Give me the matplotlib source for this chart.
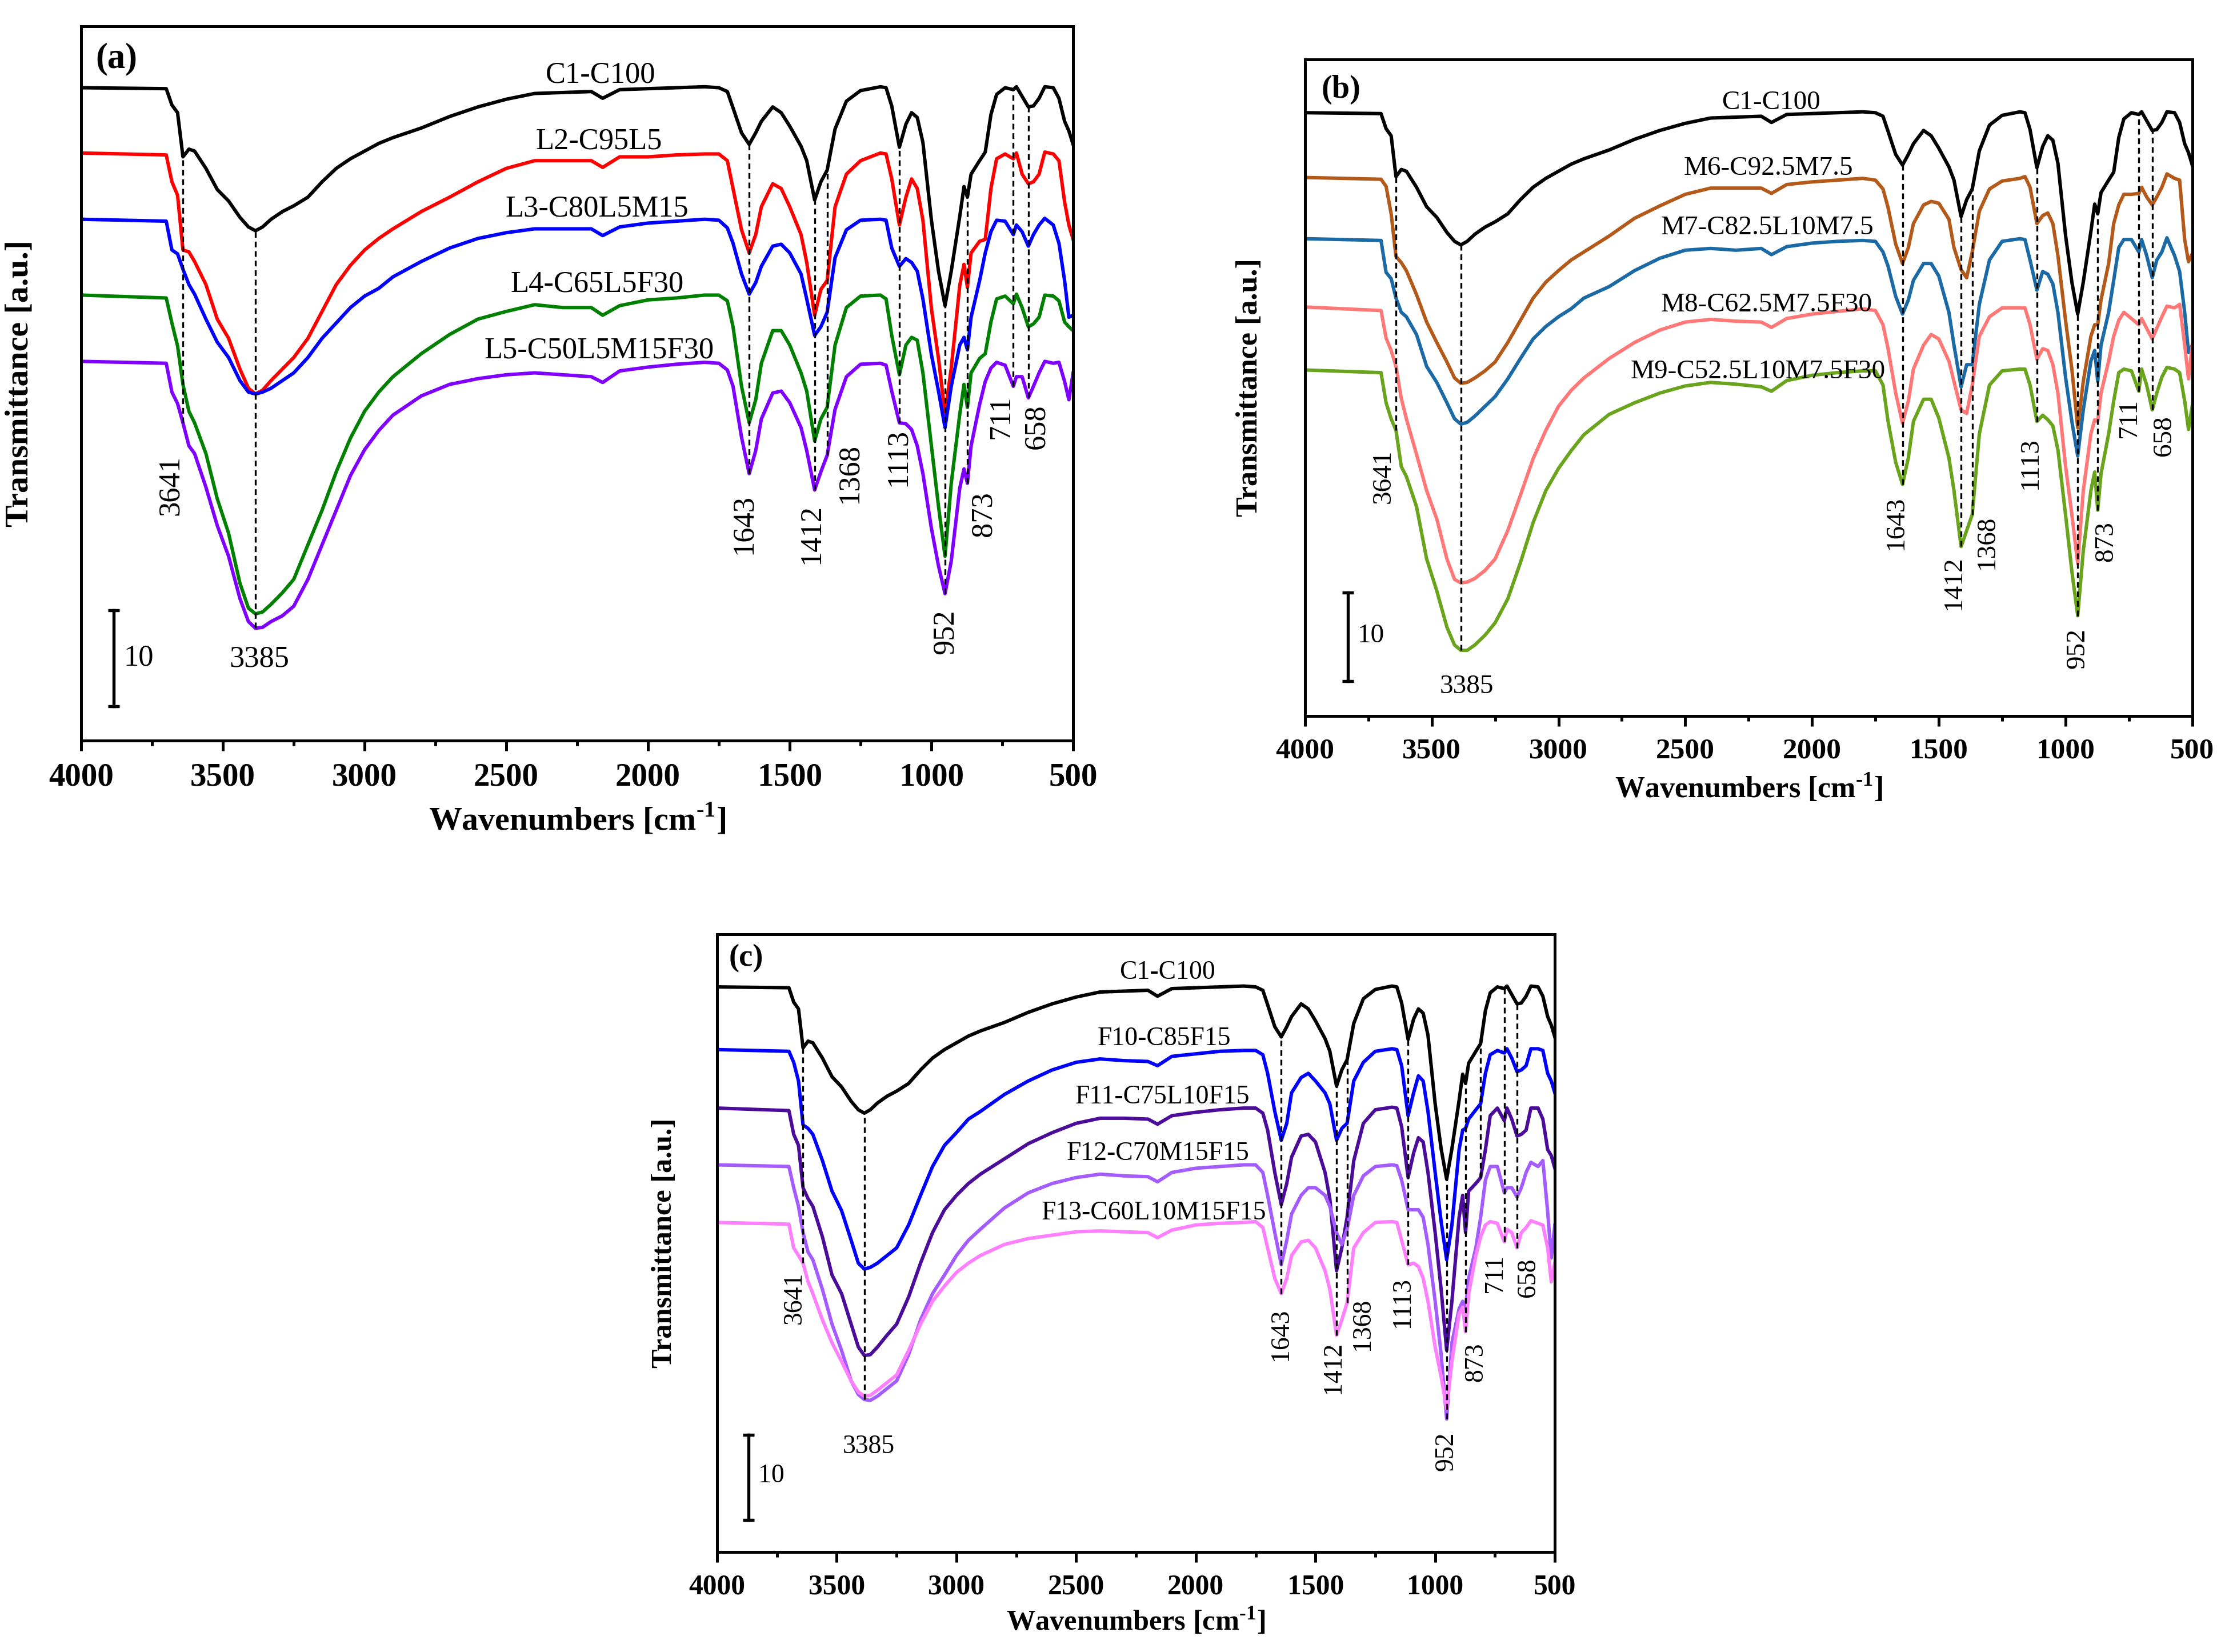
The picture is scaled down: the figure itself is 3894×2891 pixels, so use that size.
import numpy as np
import matplotlib.pyplot as plt

plt.rcParams['font.family'] = 'Liberation Serif'
plt.rcParams['mathtext.fontset'] = 'custom'
plt.rcParams['mathtext.rm'] = 'Liberation Serif:bold'
plt.rcParams['mathtext.bf'] = 'Liberation Serif:bold'
plt.rcParams['axes.linewidth'] = 1.2

# wavenumbers [cm-1] the spectra were read at: O-H band region, then fingerprint
wn_band = [4000, 3700, 3680, 3660, 3641, 3620, 3600, 3560, 3520, 3480,
           3440, 3410, 3385, 3360, 3330, 3290, 3250, 3200, 3150, 3100,
           3050, 3000, 2950, 2900, 2800, 2700, 2600, 2500, 2400, 2300,
           2200, 2160, 2100, 2000, 1900, 1800]
wn_fp = [1750, 1720, 1700, 1670, 1643, 1620, 1600, 1560, 1530, 1500,
         1460, 1440, 1412, 1390, 1368, 1340, 1300, 1250, 1180, 1160,
         1140, 1113, 1090, 1070, 1050, 1030, 1000, 975, 952, 930,
         900, 885, 873, 860, 830, 810, 790, 770, 740, 711,
         700, 680, 658, 640, 620, 600, 570, 550, 530, 515, 500]
wn = np.array(wn_band + wn_fp)

# offset transmittance, same units as the "10" scale bar
c1 = [68.0, 67.9, 66.2, 65.4, 60.8, 61.6, 61.4, 59.6, 57.4, 56.2,
      54.5, 53.5, 53.1, 53.5, 54.3, 55.1, 55.7, 56.6, 58.2, 59.6,
      60.6, 61.4, 62.2, 62.8, 63.8, 65.0, 66.0, 66.8, 67.4, 67.5,
      67.6, 66.9, 67.8, 67.9, 68.0, 68.1,
      68.0, 67.6, 65.9, 63.3, 62.1, 63.3, 64.5, 66.0, 65.4, 64.0,
      61.9, 60.4, 56.3, 58.2, 59.4, 63.7, 66.6, 67.7, 68.1, 68.0,
      66.1, 61.8, 64.2, 65.4, 64.9, 62.3, 54.2, 48.9, 45.3, 48.9,
      54.6, 57.7, 56.6, 59.0, 60.4, 61.3, 65.2, 67.3, 68.0, 67.8,
      68.1, 67.1, 66.0, 66.1, 66.9, 68.1, 68.0, 66.9, 64.5, 63.5, 62.1]

l2 = [61.2, 61.0, 58.2, 56.8, 51.1, 50.9, 49.9, 47.5, 43.9, 41.9,
      38.7, 36.7, 36.1, 36.5, 37.5, 38.7, 39.9, 41.9, 44.7, 47.5,
      49.5, 51.1, 52.3, 53.3, 55.1, 56.6, 58.2, 59.6, 60.4, 60.4,
      60.4, 59.7, 60.8, 60.8, 61.0, 61.1,
      61.1, 60.4, 57.5, 53.2, 50.8, 52.7, 55.6, 58.0, 57.5, 55.6,
      52.7, 49.8, 44.3, 47.0, 47.9, 55.6, 59.0, 60.4, 61.2, 61.1,
      58.5, 53.7, 56.6, 58.5, 57.5, 54.2, 45.0, 39.8, 34.0, 38.8,
      47.4, 49.6, 47.2, 50.8, 52.0, 52.2, 57.5, 60.6, 61.1, 60.6,
      61.2, 59.0, 58.0, 58.2, 59.0, 61.3, 61.1, 60.4, 56.1, 53.7, 52.2]

l3 = [54.3, 54.1, 51.1, 50.7, 49.1, 47.5, 46.5, 43.9, 41.5, 39.9,
      37.5, 36.3, 36.1, 36.3, 36.7, 37.5, 38.3, 39.9, 41.9, 43.5,
      45.1, 46.3, 47.1, 48.3, 49.9, 51.3, 52.3, 52.9, 53.3, 53.3,
      53.3, 52.6, 53.5, 53.9, 54.1, 54.3,
      54.2, 53.4, 51.8, 48.6, 46.5, 47.7, 49.4, 51.5, 51.7, 50.8,
      48.6, 46.0, 42.2, 43.1, 44.6, 50.3, 53.2, 54.2, 54.3, 54.2,
      51.3, 49.4, 50.2, 49.8, 48.9, 46.0, 40.2, 36.4, 32.6, 36.9,
      41.2, 42.0, 40.7, 44.1, 47.9, 50.8, 53.0, 54.2, 54.1, 52.7,
      53.7, 53.0, 51.5, 52.7, 53.7, 54.4, 53.7, 51.8, 47.9, 44.1, 44.3]

l4 = [46.4, 46.1, 43.5, 41.1, 37.1, 34.3, 33.1, 29.9, 25.2, 21.6,
      16.4, 13.8, 13.2, 13.4, 14.2, 15.4, 16.8, 20.4, 24.0, 28.0,
      31.5, 34.3, 36.3, 37.9, 40.3, 42.3, 43.9, 44.7, 45.4, 45.1,
      45.1, 44.3, 45.3, 45.9, 46.1, 46.4,
      46.4, 45.8, 43.1, 36.9, 33.1, 35.5, 39.3, 42.7, 42.7, 41.2,
      38.3, 36.4, 31.2, 33.5, 34.7, 41.2, 45.1, 46.3, 46.4, 46.0,
      42.2, 38.1, 41.2, 42.0, 41.7, 38.3, 30.7, 24.4, 19.2, 26.8,
      34.0, 37.1, 34.7, 38.3, 39.8, 40.3, 43.6, 46.0, 46.3, 45.5,
      46.5, 45.1, 43.1, 43.4, 44.1, 46.4, 46.3, 45.8, 43.6, 43.1, 42.7]

l5 = [39.5, 39.3, 36.3, 35.1, 33.1, 30.7, 29.9, 26.4, 22.4, 19.2,
      14.8, 12.4, 11.7, 11.8, 12.4, 13.0, 14.0, 16.8, 20.4, 24.0,
      27.6, 30.3, 32.3, 33.9, 35.9, 37.1, 37.7, 38.1, 38.3, 38.1,
      37.9, 37.3, 38.5, 38.9, 39.2, 39.4,
      39.3, 38.6, 36.9, 31.6, 27.8, 30.2, 33.5, 36.2, 36.4, 35.2,
      32.6, 30.2, 26.1, 28.0, 29.7, 34.5, 37.9, 39.2, 39.3, 39.1,
      36.4, 33.1, 33.0, 32.4, 30.7, 27.8, 22.1, 18.2, 15.3, 18.7,
      26.3, 28.3, 26.8, 30.7, 35.0, 37.4, 38.8, 39.4, 39.1, 36.9,
      37.9, 37.9, 35.7, 36.9, 38.3, 39.5, 39.3, 39.4, 37.4, 35.5, 38.3]

m6 = [60.7, 60.5, 59.7, 56.6, 51.8, 51.1, 50.2, 47.5, 44.4, 42.1,
      39.9, 38.1, 37.5, 37.6, 38.1, 38.9, 39.9, 42.1, 44.6, 47.1,
      48.9, 50.2, 51.4, 52.3, 54.1, 56.1, 57.5, 58.8, 59.5, 59.5,
      59.5, 58.9, 59.9, 60.2, 60.4, 60.6,
      60.4, 59.4, 57.3, 53.2, 51.0, 52.8, 55.5, 57.6, 58.0, 57.8,
      56.0, 52.8, 50.3, 49.4, 52.3, 56.9, 59.4, 60.3, 60.6, 60.8,
      59.6, 55.5, 56.4, 56.7, 55.5, 51.9, 44.6, 39.1, 32.5, 37.7,
      42.8, 44.1, 44.1, 46.9, 51.0, 55.5, 57.6, 58.8, 58.8, 58.9,
      59.6, 58.5, 57.6, 58.5, 59.6, 61.1, 60.6, 60.4, 53.7, 51.2, 52.1]

m7 = [53.8, 53.6, 50.0, 49.3, 47.1, 45.5, 45.0, 43.0, 39.4, 37.6,
      35.3, 33.5, 32.9, 33.1, 33.8, 34.9, 36.0, 38.0, 40.3, 42.5,
      43.9, 45.0, 45.9, 47.1, 48.4, 50.2, 51.6, 52.5, 52.7, 52.5,
      52.7, 52.0, 52.9, 53.3, 53.5, 53.6,
      53.5, 52.3, 50.7, 47.3, 45.3, 46.9, 49.1, 51.0, 51.0, 49.6,
      45.5, 41.8, 37.1, 39.6, 39.6, 46.4, 51.4, 53.5, 53.8, 53.7,
      51.4, 48.0, 50.1, 49.8, 48.7, 45.5, 38.2, 33.2, 29.3, 34.5,
      40.0, 41.2, 37.7, 41.8, 45.5, 49.1, 52.8, 53.7, 53.7, 52.3,
      53.7, 51.9, 49.4, 51.4, 52.3, 53.9, 51.9, 50.1, 45.5, 41.0, 41.8]

m8 = [46.1, 45.7, 42.6, 41.2, 39.4, 35.8, 33.5, 29.5, 25.4, 22.2,
      17.7, 15.4, 15.0, 15.1, 15.5, 16.4, 17.7, 20.9, 24.9, 29.0,
      32.2, 34.9, 36.7, 38.1, 40.3, 42.1, 43.5, 44.4, 44.7, 44.5,
      44.4, 43.8, 44.8, 45.3, 45.6, 45.9,
      45.7, 44.1, 41.4, 36.4, 33.0, 35.5, 39.1, 41.8, 43.0, 42.5,
      40.0, 37.7, 34.5, 34.1, 37.3, 42.8, 45.0, 46.0, 46.0, 46.0,
      44.1, 40.2, 41.4, 41.2, 39.6, 36.4, 28.2, 22.7, 17.2, 25.4,
      31.8, 33.4, 33.2, 36.4, 40.0, 42.8, 44.6, 45.5, 44.8, 44.1,
      44.8, 43.7, 42.5, 43.7, 45.0, 46.2, 46.0, 46.4, 41.8, 38.0, 41.8]

m9 = [39.0, 38.7, 35.3, 33.5, 32.2, 28.1, 27.0, 23.6, 17.7, 14.1,
      10.0, 8.0, 7.4, 7.4, 8.0, 9.1, 10.5, 13.2, 17.3, 21.8,
      25.4, 27.9, 29.9, 31.7, 34.0, 35.3, 36.4, 37.2, 37.6, 37.4,
      37.1, 36.6, 37.8, 38.4, 38.7, 38.9,
      38.9, 37.3, 33.2, 28.6, 26.1, 29.1, 33.2, 35.7, 35.7, 33.6,
      29.1, 25.4, 19.1, 20.9, 22.7, 31.8, 37.3, 38.9, 39.1, 39.1,
      37.3, 33.2, 33.9, 33.4, 32.7, 30.0, 22.7, 16.3, 11.3, 18.6,
      25.4, 27.5, 23.2, 27.3, 31.8, 35.5, 38.7, 39.1, 38.9, 36.6,
      39.1, 37.3, 34.5, 36.4, 38.2, 39.3, 39.1, 38.7, 35.5, 32.3, 35.0]

f10 = [60.6, 60.4, 59.1, 56.9, 51.7, 51.3, 50.6, 47.5, 43.9, 41.6,
       38.1, 35.4, 34.7, 34.9, 35.4, 36.3, 37.2, 39.9, 43.4, 46.8,
       49.3, 50.8, 52.4, 53.3, 55.3, 56.9, 58.2, 59.1, 59.5, 59.3,
       59.2, 58.7, 59.8, 60.1, 60.4, 60.5,
       60.5, 60.0, 57.8, 53.3, 49.9, 51.9, 55.5, 57.3, 57.8, 56.9,
       55.5, 54.2, 49.9, 51.3, 51.9, 56.9, 59.1, 60.4, 60.7, 60.6,
       58.7, 52.8, 55.5, 57.5, 56.9, 53.3, 46.1, 40.3, 35.8, 39.9,
       48.8, 51.1, 51.3, 52.4, 53.5, 54.2, 57.8, 60.0, 60.5, 60.2,
       60.7, 59.6, 58.0, 58.2, 58.7, 60.7, 60.7, 60.5, 57.8, 56.9, 55.5]

f11 = [53.7, 53.4, 50.6, 49.3, 44.3, 43.0, 42.1, 38.5, 34.0, 31.8,
       28.2, 25.5, 24.5, 24.6, 25.5, 26.9, 28.2, 31.4, 35.4, 39.0,
       41.7, 43.4, 44.8, 45.9, 47.7, 49.5, 50.8, 51.9, 52.5, 52.5,
       52.4, 51.8, 52.8, 53.2, 53.5, 53.7,
       53.7, 53.1, 51.1, 46.1, 42.3, 44.8, 47.9, 50.4, 50.6, 49.7,
       46.1, 43.0, 34.5, 37.2, 40.8, 47.5, 51.9, 53.5, 53.8, 53.7,
       51.5, 45.5, 48.4, 50.2, 49.7, 46.1, 39.0, 32.3, 25.1, 30.9,
       40.8, 43.4, 39.0, 43.9, 44.8, 45.5, 48.8, 52.8, 53.7, 52.2,
       53.7, 52.4, 50.4, 50.6, 51.1, 53.7, 53.7, 52.4, 48.8, 48.1, 46.6]

f12 = [47.0, 46.8, 44.3, 42.1, 39.0, 36.7, 35.8, 32.3, 28.2, 25.1,
       21.5, 19.9, 19.3, 19.2, 19.7, 20.6, 21.5, 24.6, 28.7, 31.8,
       34.0, 36.3, 38.1, 39.4, 41.9, 43.7, 44.8, 45.5, 45.9, 45.7,
       45.6, 45.0, 46.1, 46.6, 46.8, 47.0,
       47.0, 46.1, 43.4, 39.0, 35.2, 38.1, 41.2, 43.4, 44.3, 44.3,
       43.4, 42.1, 39.0, 37.6, 39.4, 43.4, 45.7, 46.8, 47.0, 46.9,
       45.2, 41.7, 41.7, 41.7, 40.8, 37.6, 30.9, 24.6, 17.0, 26.0,
       30.0, 30.9, 30.0, 33.6, 37.2, 40.8, 45.2, 46.8, 46.8, 43.7,
       44.3, 44.3, 43.2, 44.3, 46.1, 47.3, 46.8, 47.5, 41.5, 36.0, 39.9]

f13 = [40.2, 40.0, 37.2, 36.3, 35.4, 33.2, 31.8, 28.7, 26.0, 23.8,
       21.5, 20.2, 19.7, 19.8, 20.4, 21.3, 22.2, 25.1, 28.2, 30.9,
       32.7, 34.3, 35.4, 36.3, 37.6, 38.3, 38.7, 39.1, 39.2, 39.1,
       39.0, 38.4, 39.3, 39.9, 40.1, 40.2,
       40.3, 39.6, 37.2, 33.6, 31.8, 33.6, 36.3, 37.9, 38.1, 37.2,
       34.5, 32.3, 26.9, 28.7, 30.7, 37.2, 39.0, 40.2, 40.3, 40.2,
       38.1, 35.2, 35.4, 35.0, 33.6, 30.9, 25.5, 22.0, 18.2, 23.8,
       29.4, 30.2, 27.3, 31.8, 36.3, 38.5, 39.9, 40.3, 40.1, 37.9,
       39.4, 39.0, 37.2, 39.0, 39.6, 40.4, 40.1, 39.9, 37.2, 33.2, 35.4]

names_a = ['C1-C100', 'L2-C95L5', 'L3-C80L5M15', 'L4-C65L5F30', 'L5-C50L5M15F30']
names_b = ['C1-C100', 'M6-C92.5M7.5', 'M7-C82.5L10M7.5', 'M8-C62.5M7.5F30', 'M9-C52.5L10M7.5F30']
names_c = ['C1-C100', 'F10-C85F15', 'F11-C75L10F15', 'F12-C70M15F15', 'F13-C60L10M15F15']

peaks = [3641, 3385, 1643, 1412, 1368, 1113, 952, 873, 711, 658]
xticks = [4000, 3500, 3000, 2500, 2000, 1500, 1000, 500]


def yat(curve, w):
    return np.interp(w, wn[::-1], np.asarray(curve)[::-1])


def panel(rect, curves, names, colors, name_xy, peak_xy, bar, ylim, letter, s,
          extra=()):
    ax = fig.add_axes(rect)
    for y, col in zip(curves, colors):
        ax.plot(wn, y, color=col, lw=1.45)

    # dashed guides from the top spectrum down to the lowest one
    for p in peaks:
        vals = [yat(y, p) for y in curves]
        ax.vlines(p, min(vals), vals[0], colors='k', lw=0.8,
                  linestyles=(0, (3, 2)))
    for p, k in extra:
        ax.vlines(p, yat(curves[k], p), yat(curves[0], p), colors='k', lw=0.8,
                  linestyles=(0, (3, 2)))

    for name, (x, y) in zip(names, name_xy):
        ax.text(x, y, name, ha='center', va='center', fontsize=12.6 * s)
    for p, (x, y) in zip(peaks, peak_xy):
        ax.text(x, y, str(p), ha='center', va='center', fontsize=12.6 * s,
                rotation=0 if p == 3385 else 90)

    # 10-unit scale bar
    bx, by, tx, ty = bar
    ax.plot([bx, bx], [by, by + 10], color='k', lw=1.3, marker='_', ms=5, mew=1.3)
    ax.text(tx, ty, '10', ha='left', va='center', fontsize=12.6 * s)

    ax.text(*letter, transform=ax.transAxes, fontweight='bold',
            fontsize=15 * s, ha='left', va='center')

    ax.set_xlim(4000, 500)
    ax.set_ylim(*ylim)
    ax.set_xticks(xticks)
    ax.set_xticklabels([str(t) for t in xticks], fontweight='bold')
    ax.set_xticks(np.arange(3750, 500, -500), minor=True)
    ax.set_yticks([])
    ax.tick_params(axis='x', which='major', direction='out', length=4.3,
                   width=1.2, labelsize=13.7 * s, pad=5)
    ax.tick_params(axis='x', which='minor', direction='out', length=2.2, width=1.2)
    ax.set_xlabel(r'Wavenumbers [cm$^{\text{-1}}$]', fontweight='bold',
                  fontsize=13.9 * s)
    ax.set_ylabel('Transmittance [a.u.]', fontweight='bold', fontsize=13.9 * s)
    ax.xaxis.set_label_coords(0.5, -0.086)
    ax.yaxis.set_label_coords(-0.047, 0.5)
    return ax


fig = plt.figure(figsize=(3894 / 300, 2891 / 300))

panel([0.0365, 0.5517, 0.4458, 0.4324],
      [c1, l2, l3, l4, l5], names_a,
      ['black', '#ff0000', '#0000ff', '#008000', '#7f00ff'],
      [(2168, 69.3), (2173, 62.4), (2180, 55.4), (2180, 47.5), (2173, 40.6)],
      [(3684, 26.6), (3371, 8.5), (1662, 22.5), (1422, 21.5), (1288, 27.8),
       (1117, 29.5), (950, 11.3), (816, 23.6), (754, 33.7), (629, 32.7)],
      (3885, 3.6, 3850, 8.6), (0, 74.4), (0.0144, 0.954, '(a)'), 1.0)

panel([0.5865, 0.5666, 0.3988, 0.3974],
      [c1, m6, m7, m8, m9], names_b,
      ['black', '#b35a1a', '#1b6aa5', '#ff7878', '#6aa31c'],
      [(2161, 69.1), (2173, 61.7), (2176, 55.0), (2180, 46.3), (2212, 38.8)],
      [(3690, 27.0), (3361, 3.3), (1667, 21.8), (1441, 15.0), (1309, 19.6),
       (1139, 28.5), (951, 7.6), (839, 19.7), (749, 33.6), (610, 31.6)],
      (3831, 3.9, 3792, 9.0), (0, 74.0), (0.0187, 0.954, '(b)'), 0.9)

panel([0.3223, 0.0605, 0.3765, 0.3739],
      [c1, f10, f11, f12, f13], names_c,
      ['black', '#0000ff', '#4b0c9a', '#a55cff', '#ff80ff'],
      [(2120, 69.7), (2133, 61.9), (2140, 55.0), (2158, 48.3), (2175, 41.3)],
      [(3677, 31.3), (3366, 13.7), (1645, 27.0), (1425, 23.1), (1302, 28.2),
       (1137, 30.8), (954, 13.2), (830, 23.7), (749, 34.2), (611, 33.7)],
      (3868, 5.1, 3829, 10.3), (1.3, 74.2), (0.0143, 0.961, '(c)'), 0.87,
      extra=[(810, 2)])

fig.savefig('out.png', dpi=300)
